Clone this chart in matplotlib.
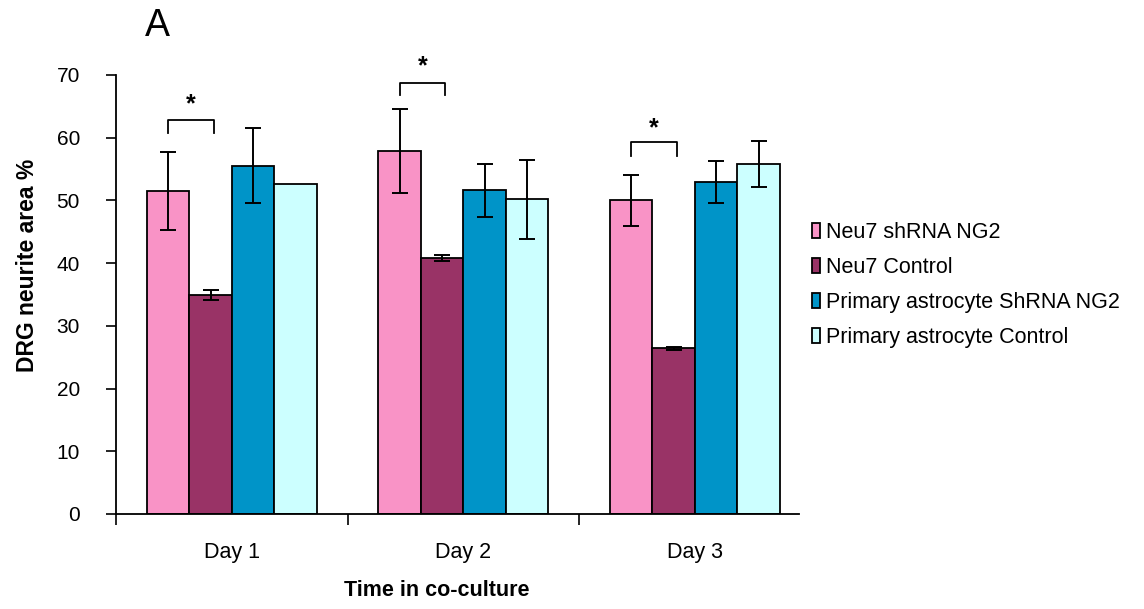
import numpy as np
import matplotlib.pyplot as plt

plt.rcParams['font.family'] = ['Liberation Sans', 'DejaVu Sans']

days = ["Day 1", "Day 2", "Day 3"]
series = ["Neu7 shRNA NG2", "Neu7 Control",
          "Primary astrocyte ShRNA NG2", "Primary astrocyte Control"]
colours = ["#F993C6", "#993366", "#0094C8", "#CCFFFF"]

neu7_shrna = [51.5, 57.8, 50.0]
neu7_ctrl = [34.9, 40.8, 26.4]
astro_shrna = [55.5, 51.6, 52.9]
astro_ctrl = [52.6, 50.2, 55.8]
values = [neu7_shrna, neu7_ctrl, astro_shrna, astro_ctrl]

neu7_shrna_err = [6.2, 6.7, 4.1]
neu7_ctrl_err = [0.8, 0.5, 0.2]
astro_shrna_err = [6.0, 4.2, 3.4]
astro_ctrl_err = [0.0, 6.3, 3.6]
errors = [neu7_shrna_err, neu7_ctrl_err, astro_shrna_err, astro_ctrl_err]

# significance brackets per day: bracket top, leg bottom, star centre
bracket_top = [62.8, 68.7, 59.3]
bracket_leg = [60.8, 66.8, 57.1]
star_y = [66.3, 72.4, 62.5]

fig = plt.figure(figsize=(11.44, 6.09), dpi=100)
ax = fig.add_axes([0.1014, 0.156, 0.597, 0.721])

x = np.arange(len(days))
width = 0.1836
offsets = (np.arange(4) - 1.5) * width
for i in range(4):
    err = [e if e > 0 else np.nan for e in errors[i]]
    ax.bar(x + offsets[i], values[i], width, color=colours[i], edgecolor="black",
           linewidth=1.3, label=series[i])
    ax.errorbar(x + offsets[i], values[i], yerr=err, fmt="none", ecolor="black",
                elinewidth=1.4, capsize=5.8, capthick=1.4)

for g in range(len(days)):
    x0 = g + offsets[0]
    x1 = g + offsets[1] + 0.015
    ax.plot([x0, x0, x1, x1], [bracket_leg[g], bracket_top[g], bracket_top[g], bracket_leg[g]],
            color="black", lw=1.3, clip_on=False)
    ax.annotate("*", xy=((x0 + x1) / 2, star_y[g]), xytext=(0, -9.5),
                textcoords="offset points", ha="center", va="baseline",
                fontsize=18, fontweight="bold", annotation_clip=False)

ax.set_xlim(-0.5, 2.45)
ax.set_ylim(0, 70)
ax.set_yticks(np.arange(0, 71, 10))
ax.set_xticks(x)
ax.set_xticklabels(days, fontsize=15.5)
ax.set_xticks([-0.5, 0.5, 1.5], minor=True)
ax.tick_params(axis="x", which="major", length=0, pad=20)
ax.tick_params(axis="x", which="minor", length=8, width=1.2, direction="out")
ax.tick_params(axis="y", labelsize=15, length=7, width=1.2, direction="out", pad=19)
for s in ["top", "right"]:
    ax.spines[s].set_visible(False)
ax.spines["left"].set_linewidth(1.3)
ax.spines["bottom"].set_linewidth(1.3)

ax.set_ylabel("DRG neurite area %", fontsize=16.5, fontweight="bold", va="center")
ax.yaxis.set_label_coords(-0.130, 0.567)
ax.set_xlabel("Time in co-culture", fontsize=15.5, fontweight="bold", va="center")
ax.xaxis.set_label_coords(0.47, -0.175)
fig.text(0.127, 0.957, "A", fontsize=27, ha="left", va="center")

fig.legend(loc="center left", bbox_to_anchor=(0.693, 0.532), frameon=False,
           fontsize=15.5, handlelength=0.35, handleheight=0.75, handletextpad=0.3,
           labelspacing=0.65)

fig.savefig("out.png", dpi=100)
